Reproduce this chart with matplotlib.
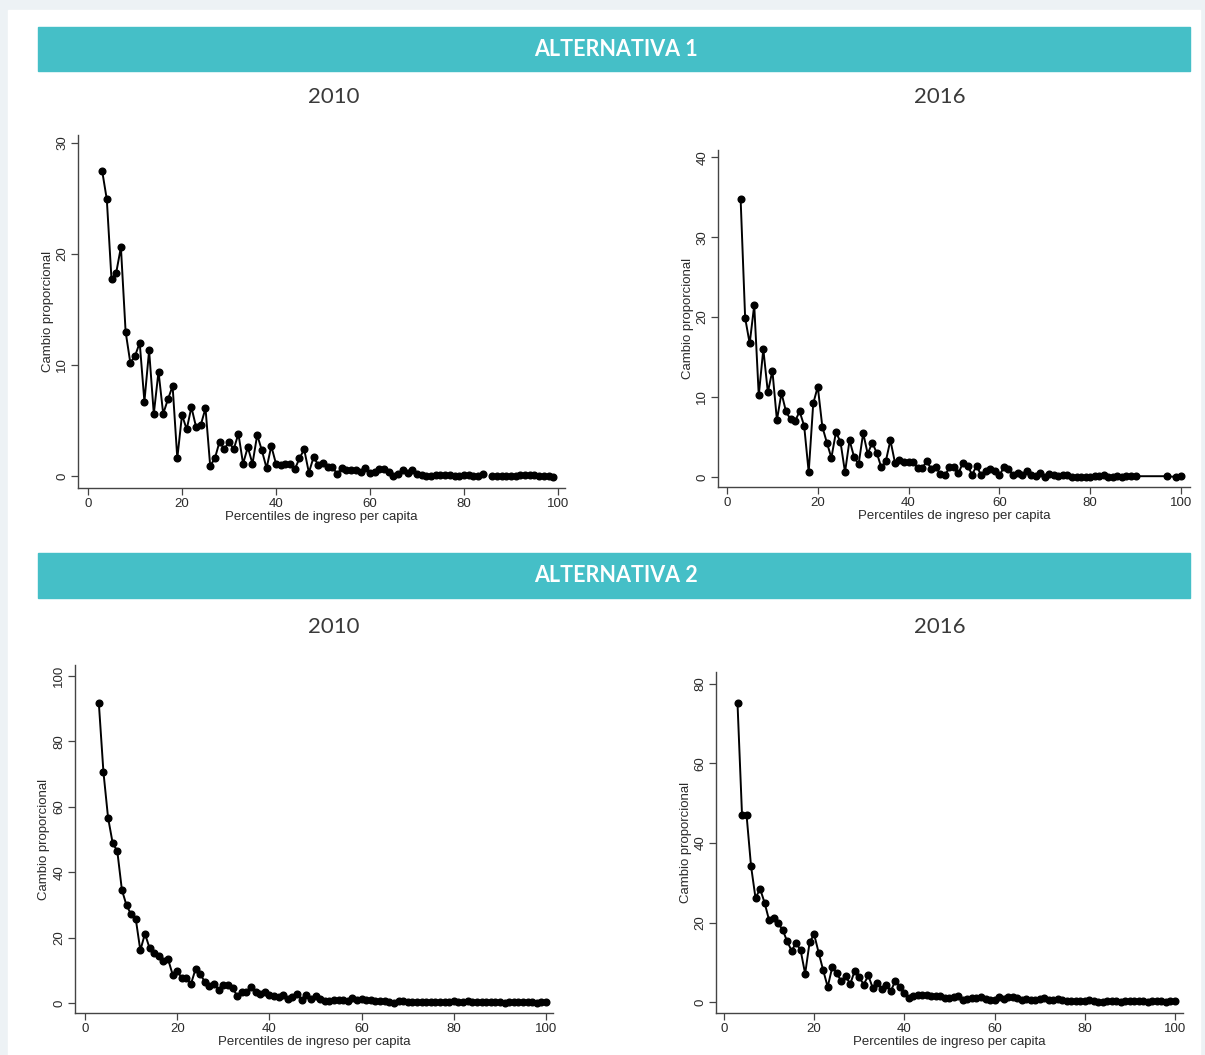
import numpy as np
import matplotlib
matplotlib.use("Agg")
import matplotlib.pyplot as plt
from matplotlib.patches import Rectangle

plt.rcParams.update({'font.family': ['Liberation Sans', 'DejaVu Sans'],
                     'font.size': 10})

W, H = 1205, 1055
teal = '#45bfc7'
edge = '#edf2f5'

# Data (percentile, cambio proporcional)
pct_a1_2010 = list(range(3, 100))
val_a1_2010 = [27.5, 24.9, 17.7, 18.3, 20.6, 13.0, 10.2, 10.8, 12.0, 6.7,
               11.3, 5.6, 9.4, 5.6, 6.9, 8.1, 1.6, 5.5, 4.2, 6.2,
               4.4, 4.6, 6.1, 0.9, 1.6, 3.1, 2.4, 3.1, 2.4, 3.8,
               1.1, 2.6, 1.1, 3.7, 2.3, 0.7, 2.7, 1.1, 1.0, 1.1,
               1.1, 0.6, 1.6, 2.4, 0.3, 1.7, 1.0, 1.2, 0.8, 0.8,
               0.2, 0.7, 0.5, 0.5, 0.5, 0.4, 0.7, 0.3, 0.4, 0.6,
               0.6, 0.4, 0.0, 0.2, 0.5, 0.3, 0.5, 0.2, 0.1, 0.0,
               0.0, 0.1, 0.1, 0.1, 0.1, 0.0, 0.0, 0.1, 0.1, 0.0,
               0.0, 0.2, np.nan, 0.0, 0.0, 0.0, 0.0, 0.0, 0.0, 0.1,
               0.1, 0.1, 0.1, 0.0, 0.0, 0.0, -0.1]

pct_a1_2016 = list(range(3, 91)) + [97, 99, 100]
val_a1_2016 = [34.8, 19.9, 16.7, 21.5, 10.2, 16.0, 10.6, 13.3, 7.1, 10.5,
               8.2, 7.2, 7.0, 8.2, 6.4, 0.6, 9.2, 11.3, 6.3, 4.3,
               2.4, 5.6, 4.4, 0.6, 4.6, 2.5, 1.6, 5.5, 2.9, 4.3,
               3.0, 1.2, 2.0, 4.6, 1.8, 2.1, 1.9, 1.9, 1.9, 1.1,
               1.1, 2.0, 1.0, 1.2, 0.4, 0.2, 1.2, 1.2, 0.5, 1.8,
               1.4, 0.3, 1.4, 0.2, 0.8, 1.0, 0.8, 0.2, 1.2, 1.0,
               0.3, 0.5, 0.2, 0.8, 0.3, 0.1, 0.5, 0.0, 0.4, 0.2,
               0.1, 0.3, 0.2, 0.0, 0.0, 0.0, 0.0, 0.0, 0.1, 0.1,
               0.2, 0.0, 0.0, 0.1, 0.0, 0.1, 0.1, 0.1,
               0.1, 0.0, 0.1]

pct_a2_2010 = list(range(3, 101))
val_a2_2010 = [91.7, 70.6, 56.7, 48.9, 46.5, 34.6, 29.9, 27.1, 25.8, 16.1,
               21.2, 16.8, 15.3, 14.5, 12.8, 13.5, 8.7, 9.7, 7.7, 7.5,
               5.9, 10.5, 9.0, 6.3, 5.3, 5.8, 4.1, 5.6, 5.6, 4.6,
               2.2, 3.4, 3.3, 5.0, 3.4, 2.6, 3.3, 2.5, 2.0, 1.8,
               2.5, 1.3, 1.8, 2.8, 1.0, 2.5, 1.2, 2.0, 1.2, 0.6,
               0.6, 1.0, 0.8, 0.8, 0.6, 1.5, 0.8, 1.1, 1.0, 0.8,
               0.5, 0.7, 0.6, 0.3, 0.1, 0.5, 0.6, 0.4, 0.4, 0.3,
               0.4, 0.3, 0.4, 0.3, 0.4, 0.2, 0.3, 0.6, 0.3, 0.4,
               0.5, 0.3, 0.4, 0.4, 0.3, 0.3, 0.2, 0.3, 0.1, 0.3,
               0.2, 0.3, 0.4, 0.3, 0.2, 0.1, 0.2, 0.2]

pct_a2_2016 = list(range(3, 101))
val_a2_2016 = [75.1, 47.1, 47.1, 34.2, 26.1, 28.5, 25.0, 20.6, 21.2, 19.8,
               18.2, 15.3, 12.9, 14.9, 13.0, 7.1, 15.1, 17.0, 12.4, 8.0,
               3.8, 8.7, 7.3, 5.2, 6.5, 4.5, 7.9, 6.2, 4.4, 6.7,
               3.5, 4.8, 3.4, 4.2, 2.7, 5.4, 3.9, 2.3, 1.0, 1.5,
               1.7, 1.8, 1.8, 1.6, 1.4, 1.5, 0.9, 1.1, 1.3, 1.6,
               0.6, 0.8, 0.9, 0.9, 1.2, 0.8, 0.5, 0.6, 1.2, 0.8,
               1.2, 1.2, 1.0, 0.4, 0.8, 0.6, 0.5, 0.7, 1.1, 0.5,
               0.6, 0.7, 0.5, 0.2, 0.2, 0.2, 0.3, 0.2, 0.5, 0.2,
               0.0, 0.1, 0.2, 0.2, 0.3, 0.1, 0.3, 0.3, 0.2, 0.2,
               0.3, 0.1, 0.2, 0.2, 0.2, 0.1, 0.2, 0.2]

headers = ['ALTERNATIVA 1', 'ALTERNATIVA 2']
years = ['2010', '2016']


def px_axes(fig, left, top, right, bottom):
    # pixel box (image coords, y down) -> figure axes
    return fig.add_axes([left / W, 1 - bottom / H, (right - left) / W, (bottom - top) / H])


def stata_panel(ax, x, y, xlim, ylim, yticks):
    ax.plot(x, y, color='black', lw=1.4, marker='o', ms=4.8, zorder=3)
    ax.set_xlim(xlim)
    ax.set_ylim(ylim)
    ax.set_xticks([0, 20, 40, 60, 80, 100])
    ax.set_yticks(yticks)
    for tl in ax.get_yticklabels():
        tl.set_rotation(90)
        tl.set_va('center')
    ax.spines['top'].set_visible(False)
    ax.spines['right'].set_visible(False)
    for s in ['left', 'bottom']:
        ax.spines[s].set_color('#444444')
        ax.spines[s].set_linewidth(1.0)
    ax.tick_params(direction='out', length=5, width=0.9, color='#444444',
                   labelsize=9.5, labelcolor='#2a2a2a', pad=2)
    ax.set_xlabel('Percentiles de ingreso per capita', fontsize=9.5,
                  color='#2a2a2a', labelpad=1)
    ax.set_ylabel('Cambio proporcional', fontsize=9.5, color='#2a2a2a', labelpad=2)
    ax.patch.set_alpha(0)


fig = plt.figure(figsize=(W / 100, H / 100), dpi=100)
fig.patch.set_facecolor(edge)
fig.patches.append(Rectangle((8 / W, 0), (1200 - 8) / W, 1 - 10 / H,
                             transform=fig.transFigure, color='white', zorder=-3))

# header bars and year titles
for bar_top, bar_bot, label, ytitle in [(27, 71, headers[0], 97), (553, 598, headers[1], 627)]:
    fig.patches.append(Rectangle((38 / W, 1 - bar_bot / H), (1190 - 38) / W,
                                 (bar_bot - bar_top) / H, transform=fig.transFigure,
                                 color=teal, zorder=-2))
    fig.text(616 / W, 1 - (bar_top + bar_bot) / 2 / H, label, color='white',
             fontsize=15.5, fontweight='bold', family=['Lato', 'DejaVu Sans'],
             ha='center', va='center')
    fig.text(334 / W, 1 - ytitle / H, years[0], color='#3a3a3a', fontsize=16,
             fontweight='normal', family=['Lato', 'DejaVu Sans'], ha='center', va='center')
    fig.text(940 / W, 1 - ytitle / H, years[1], color='#3a3a3a', fontsize=16,
             fontweight='normal', family=['Lato', 'DejaVu Sans'], ha='center', va='center')

ax1 = px_axes(fig, 78, 135, 565, 488)
stata_panel(ax1, pct_a1_2010, val_a1_2010, (-2.13, 101.5), (-1.08, 30.7), [0, 10, 20, 30])

ax2 = px_axes(fig, 718, 150, 1190, 487)
stata_panel(ax2, pct_a1_2016, val_a1_2016, (-1.98, 102.0), (-1.25, 40.9), [0, 10, 20, 30, 40])

ax3 = px_axes(fig, 75, 665, 553, 1013)
stata_panel(ax3, pct_a2_2010, val_a2_2010, (-2.17, 101.5), (-3.06, 103.4), [0, 20, 40, 60, 80, 100])

ax4 = px_axes(fig, 716, 672, 1183, 1013)
stata_panel(ax4, pct_a2_2016, val_a2_2016, (-1.77, 101.8), (-2.76, 83.0), [0, 20, 40, 60, 80])

fig.savefig('out.png', dpi=100, facecolor=fig.get_facecolor())
